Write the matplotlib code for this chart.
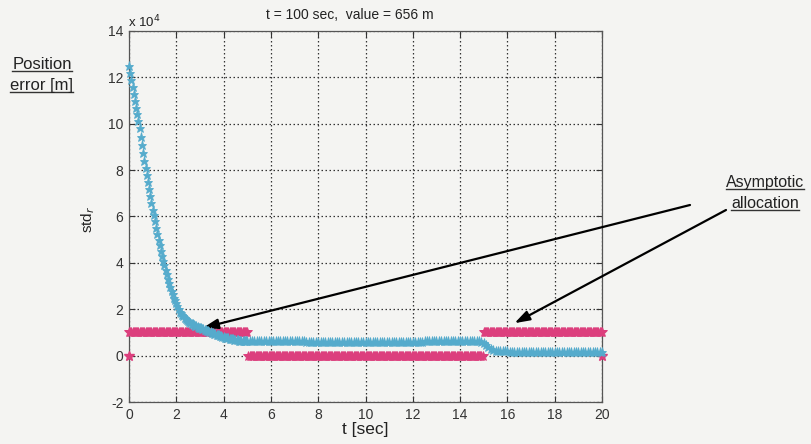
import matplotlib
matplotlib.use("Agg")
import matplotlib.pyplot as plt
import numpy as np

plt.rcParams['font.family'] = ['Liberation Sans', 'DejaVu Sans']
plt.rcParams['axes.unicode_minus'] = False

# ---- data (std_r in units of 10^4 m) ----
t_steep = np.round(np.arange(0, 101) * 0.05, 2)          # 0 .. 5 s
t_rest = np.round(5.0 + np.arange(1, 151) * 0.1, 2)       # 5.1 .. 20 s
t_std = np.concatenate([t_steep, t_rest])

std_r = [
    # 0.00 - 0.45
    12.5, 12.2, 11.9, 11.6, 11.3, 11.0, 10.7, 10.4, 10.1, 9.8,
    # 0.50 - 0.95
    9.45, 9.1, 8.75, 8.4, 8.1, 7.8, 7.5, 7.2, 6.9, 6.6,
    # 1.00 - 1.45
    6.3, 6.05, 5.8, 5.5, 5.25, 5.0, 4.75, 4.5, 4.3, 4.1,
    # 1.50 - 1.95
    3.9, 3.7, 3.5, 3.3, 3.12, 2.95, 2.8, 2.65, 2.5, 2.38,
    # 2.00 - 2.45
    2.25, 2.12, 2.0, 1.9, 1.83, 1.76, 1.7, 1.64, 1.59, 1.54,
    # 2.50 - 2.95
    1.5, 1.46, 1.42, 1.38, 1.35, 1.32, 1.29, 1.26, 1.24, 1.21,
    # 3.00 - 3.45
    1.19, 1.17, 1.15, 1.13, 1.11, 1.09, 1.07, 1.05, 1.03, 1.01,
    # 3.50 - 3.95
    0.99, 0.97, 0.95, 0.93, 0.91, 0.89, 0.87, 0.85, 0.83, 0.81,
    # 4.00 - 4.45
    0.80, 0.78, 0.77, 0.75, 0.74, 0.73, 0.72, 0.71, 0.70, 0.69,
    # 4.50 - 4.95
    0.68, 0.67, 0.66, 0.65, 0.65, 0.64, 0.64, 0.63, 0.63, 0.62,
    # 5.00
    0.62,
    # 5.1 - 6.0
    0.62, 0.62, 0.62, 0.62, 0.62, 0.62, 0.62, 0.62, 0.62, 0.62,
    # 6.1 - 7.0
    0.62, 0.62, 0.61, 0.61, 0.61, 0.61, 0.61, 0.61, 0.61, 0.61,
    # 7.1 - 8.0
    0.61, 0.61, 0.61, 0.61, 0.60, 0.60, 0.60, 0.60, 0.60, 0.60,
    # 8.1 - 9.0
    0.60, 0.60, 0.60, 0.60, 0.60, 0.60, 0.60, 0.60, 0.60, 0.60,
    # 9.1 - 10.0
    0.60, 0.60, 0.60, 0.59, 0.59, 0.59, 0.59, 0.59, 0.59, 0.59,
    # 10.1 - 11.0
    0.59, 0.59, 0.59, 0.59, 0.59, 0.59, 0.59, 0.59, 0.59, 0.59,
    # 11.1 - 12.0
    0.59, 0.59, 0.59, 0.60, 0.60, 0.60, 0.60, 0.60, 0.60, 0.60,
    # 12.1 - 13.0
    0.60, 0.60, 0.60, 0.60, 0.61, 0.61, 0.61, 0.61, 0.61, 0.61,
    # 13.1 - 14.0
    0.61, 0.61, 0.62, 0.62, 0.62, 0.62, 0.62, 0.62, 0.63, 0.63,
    # 14.1 - 14.8
    0.63, 0.63, 0.63, 0.63, 0.64, 0.64, 0.64, 0.63,
    # 14.9 - 15.8
    0.60, 0.55, 0.46, 0.37, 0.30, 0.25, 0.21, 0.19, 0.18, 0.18,
    # 15.9 - 16.8
    0.18, 0.18, 0.17, 0.17, 0.17, 0.17, 0.17, 0.17, 0.17, 0.16,
    # 16.9 - 17.8
    0.16, 0.16, 0.16, 0.16, 0.16, 0.16, 0.16, 0.16, 0.16, 0.16,
    # 17.9 - 18.8
    0.16, 0.16, 0.15, 0.15, 0.15, 0.15, 0.15, 0.15, 0.15, 0.15,
    # 18.9 - 19.8
    0.15, 0.15, 0.15, 0.15, 0.14, 0.14, 0.14, 0.14, 0.14, 0.14,
    # 19.9 - 20.0
    0.14, 0.14,
]

# allocation (0 / 1, plotted on the same scale), sampled every 0.05 s
t_alloc = np.round(np.arange(0, 401) * 0.05, 2)
allocation = [1.0] * 101 + [0.0] * 199 + [1.0] * 101
alloc_extra_t = [0.0, 20.0]
alloc_extra_v = [0.0, 0.0]

xticks = list(range(0, 21, 2))
yticks = list(range(-2, 15, 2))

title = "t = 100 sec,  value = 656 m"

BG = '#f4f4f2'
BLUE = '#55abcc'
PINK = '#dc3f7d'

W, H = 812, 444
fig = plt.figure(figsize=(W / 100, H / 100), dpi=100, facecolor=BG)
ax = fig.add_axes([129 / W, 1 - 402 / H, 473 / W, 371 / H])
ax.set_facecolor(BG)

ax.plot(t_alloc, allocation, linestyle='none', marker='*', ms=7, color=PINK,
        mew=0.6, clip_on=False, zorder=3)
ax.plot(alloc_extra_t, alloc_extra_v, linestyle='none', marker='*', ms=7,
        color=PINK, clip_on=False, zorder=3)
ax.plot(t_std, std_r, linestyle='none', marker='*', ms=6.5, color=BLUE,
        mew=0.6, clip_on=False, zorder=4)

ax.set_xlim(0, 20)
ax.set_ylim(-2, 14)
ax.set_xticks(xticks)
ax.set_yticks(yticks)
ax.tick_params(direction='in', labelsize=10, length=4, colors='#333333',
               top=True, right=True, pad=4)
ax.grid(True, color='#333333', linestyle=(0, (1.2, 2.0)), linewidth=0.9)
for s in ax.spines.values():
    s.set_color('#555555')
    s.set_linewidth(0.9)

ax.set_xlabel('t [sec]', fontsize=12.5, labelpad=0, color='#222222')
fig.text(350 / W, 1 - 15 / H, title, fontsize=10, ha='center', va='center',
         color='#222222')
fig.text(128 / W, 1 - 27 / H, r'x 10$^4$', fontsize=9.5, ha='left',
         va='baseline', color='#222222')

fig.text(88 / W, 1 - 219 / H, r'std$_r$', rotation=90, fontsize=11,
         ha='center', va='center', color='#222222')

labels = [
    ('Position', 42 / W, 69, 12),
    ('error [m]', 42 / W, 90, 12),
    ('Asymptotic', 765 / W, 187, 11.5),
    ('allocation', 765 / W, 208, 11.5),
]
txts = []
for s, x, yb, fs in labels:
    txts.append((fig.text(x, 1 - yb / H, s, fontsize=fs, ha='center',
                          va='baseline', color='#222222'), yb))

fig.canvas.draw()
r = fig.canvas.get_renderer()
for tx, yb in txts:
    bb = tx.get_window_extent(r)
    yline = 1 - (yb + 2.5) / H
    fig.add_artist(plt.Line2D([bb.x0 / W, bb.x1 / W], [yline, yline],
                              color='#333333', lw=1.0))

# arrows
arrow_kw = dict(arrowstyle='-|>,head_length=0.9,head_width=0.3',
                color='black', lw=1.6, shrinkA=0, shrinkB=0)
ax.annotate('', xy=(3.13, 1.2), xycoords='data',
            xytext=(690 / W, 1 - 205 / H), textcoords='figure fraction',
            arrowprops=arrow_kw, annotation_clip=False)
ax.annotate('', xy=(16.3, 1.4), xycoords='data',
            xytext=(726 / W, 1 - 210 / H), textcoords='figure fraction',
            arrowprops=arrow_kw, annotation_clip=False)

fig.savefig('out.png', dpi=100, facecolor=BG)
